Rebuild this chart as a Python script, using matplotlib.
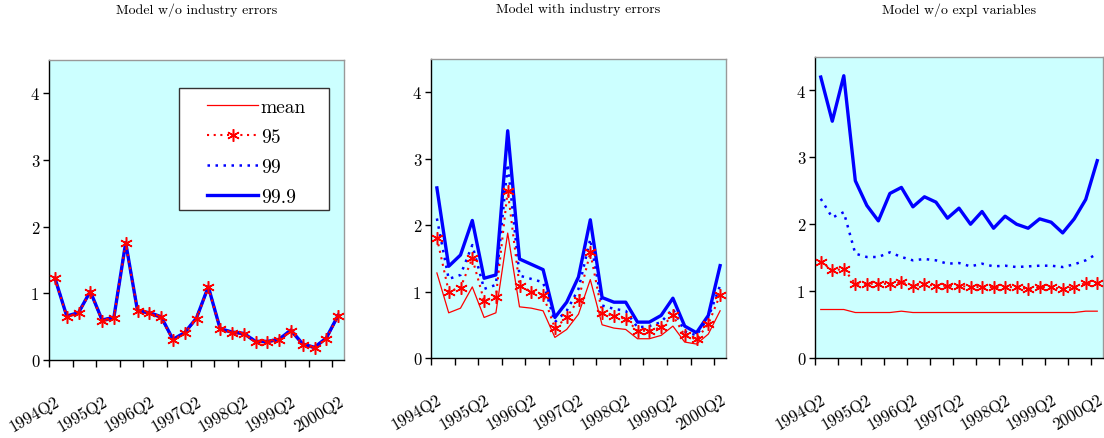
import matplotlib
matplotlib.use("Agg")
import matplotlib.pyplot as plt
from matplotlib.lines import Line2D
from matplotlib.patches import Rectangle

plt.rcParams["font.family"] = ["cmr10", "DejaVu Serif"]
plt.rcParams["axes.formatter.use_mathtext"] = True

# Quarters 1994Q2 .. 2000Q2 (25 observations)
quarters = [f"{y}Q{q}" for y in range(1994, 2001) for q in range(1, 5)][1:26]
tick_labels = ["1994Q2", "1995Q2", "1996Q2", "1997Q2", "1998Q2", "1999Q2", "2000Q2"]
series_names = ["mean", "95", "99", "99.9"]
titles = ["Model w/o industry errors", "Model with industry errors",
          "Model w/o expl variables"]

# Panel 1: model without industry errors (all quantiles nearly coincide)
p1_mean = [1.21, 0.64, 0.69, 1.01, 0.57, 0.62, 1.73, 0.72, 0.69, 0.62, 0.29, 0.39,
           0.61, 1.07, 0.45, 0.40, 0.38, 0.26, 0.26, 0.29, 0.42, 0.22, 0.17, 0.31, 0.64]
p1_95 = [1.23, 0.65, 0.70, 1.02, 0.59, 0.63, 1.75, 0.73, 0.70, 0.64, 0.30, 0.40,
         0.62, 1.09, 0.46, 0.41, 0.39, 0.27, 0.27, 0.30, 0.44, 0.23, 0.18, 0.32, 0.66]
p1_99 = [1.23, 0.66, 0.71, 1.03, 0.60, 0.64, 1.76, 0.74, 0.71, 0.65, 0.31, 0.41,
         0.63, 1.10, 0.47, 0.42, 0.40, 0.28, 0.28, 0.31, 0.45, 0.24, 0.19, 0.33, 0.67]
p1_999 = [1.23, 0.66, 0.71, 1.03, 0.60, 0.64, 1.76, 0.74, 0.71, 0.65, 0.31, 0.41,
          0.63, 1.10, 0.47, 0.42, 0.40, 0.28, 0.28, 0.31, 0.45, 0.24, 0.19, 0.33, 0.67]

# Panel 2: model with industry errors
p2_mean = [1.28, 0.68, 0.75, 1.07, 0.61, 0.68, 1.88, 0.77, 0.75, 0.71, 0.31, 0.43,
           0.66, 1.18, 0.50, 0.45, 0.43, 0.29, 0.29, 0.34, 0.48, 0.24, 0.21, 0.36, 0.71]
p2_95 = [1.81, 1.00, 1.06, 1.50, 0.86, 0.92, 2.52, 1.09, 1.00, 0.95, 0.45, 0.61,
         0.88, 1.59, 0.68, 0.63, 0.59, 0.41, 0.41, 0.46, 0.64, 0.34, 0.28, 0.51, 0.95]
p2_99 = [2.10, 1.19, 1.25, 1.70, 1.04, 1.10, 2.92, 1.24, 1.19, 1.14, 0.54, 0.71,
         1.04, 1.79, 0.79, 0.74, 0.71, 0.46, 0.48, 0.54, 0.74, 0.40, 0.34, 0.61, 1.09]
p2_999 = [2.56, 1.38, 1.55, 2.07, 1.20, 1.25, 3.42, 1.49, 1.41, 1.33, 0.61, 0.84,
          1.22, 2.08, 0.91, 0.84, 0.84, 0.54, 0.54, 0.64, 0.90, 0.48, 0.38, 0.64, 1.39]

# Panel 3: model without explanatory variables
p3_mean = [0.725, 0.725, 0.725, 0.68, 0.68, 0.68, 0.68, 0.70, 0.68, 0.68, 0.68, 0.68,
           0.68, 0.68, 0.68, 0.68, 0.68, 0.68, 0.68, 0.68, 0.68, 0.68, 0.68, 0.70, 0.70]
p3_95 = [1.44, 1.31, 1.33, 1.11, 1.11, 1.11, 1.11, 1.13, 1.08, 1.10, 1.08, 1.08,
         1.08, 1.06, 1.06, 1.06, 1.06, 1.06, 1.03, 1.06, 1.06, 1.03, 1.06, 1.12, 1.12]
p3_99 = [2.38, 2.10, 2.18, 1.56, 1.51, 1.51, 1.58, 1.51, 1.46, 1.48, 1.46, 1.41,
         1.42, 1.37, 1.41, 1.37, 1.38, 1.36, 1.37, 1.38, 1.38, 1.36, 1.40, 1.46, 1.56]
p3_999 = [4.20, 3.54, 4.22, 2.65, 2.28, 2.05, 2.46, 2.55, 2.26, 2.41, 2.33, 2.09,
          2.24, 2.00, 2.19, 1.94, 2.12, 2.00, 1.94, 2.08, 2.03, 1.87, 2.08, 2.37, 2.95]

panels = [(p1_mean, p1_95, p1_99, p1_999),
          (p2_mean, p2_95, p2_99, p2_999),
          (p3_mean, p3_95, p3_99, p3_999)]

# axes boxes in pixels: left, bottom(from top), right, top(from top)
W, H = 1104, 439
boxes = [(49, 361, 344, 61), (431, 359, 726, 60), (815, 359, 1103, 58)]

star = (6, 2, 0)
red, blue = "#FF0000", "#0000FF"
dots = (0, (1, 2.2))

fig = plt.figure(figsize=(W / 100, H / 100), dpi=100)
x = list(range(len(quarters)))

for i, (data, box, title) in enumerate(zip(panels, boxes, titles)):
    l, b, r, t = box
    ax = fig.add_axes([l / W, 1 - b / H, (r - l) / W, (b - t) / H])
    ax.set_facecolor("#CCFFFF")
    mean, q95, q99, q999 = data
    ax.plot(x, mean, color=red, lw=0.9, zorder=2)
    ax.plot(x, q999, color=blue, lw=2.4, zorder=3)
    ax.plot(x, q99, color=blue, lw=1.8, ls=dots, zorder=4)
    ax.plot(x, q95, color=red, lw=1.5, ls=dots, marker=star, ms=9,
            mew=1.1, mec=red, zorder=5)

    ax.set_xlim(-0.45, 24.5)
    ax.set_ylim(0, 4.5)
    ax.set_yticks([0, 1, 2, 3, 4])
    ax.set_yticklabels(["0", "1", "2", "3", "4"], fontsize=12)
    ax.set_xticks(list(range(0, 25, 4)))
    ax.set_xticklabels(tick_labels, fontsize=12, rotation=30, ha="right",
                       va="top", rotation_mode="anchor")
    ax.set_xticks([k - 0.5 for k in range(0, 25, 2)], minor=True)
    ax.tick_params(axis="x", which="major", length=0, pad=24)
    ax.tick_params(axis="x", which="minor", length=5, width=1, direction="out")
    ax.tick_params(axis="y", length=4, width=1, direction="out", pad=3)
    for side in ["left", "bottom"]:
        ax.spines[side].set_color("black")
        ax.spines[side].set_linewidth(1.0)
    for side in ["top", "right"]:
        ax.spines[side].set_color("#999999")
        ax.spines[side].set_linewidth(1.0)

    fig.text(((l + r) / 2) / W, 1 - 10 / H, title, ha="center", va="center",
             fontsize=10)

    if i == 0:
        # legend frame drawn as a patch so the padding matches the original
        x0, y0, w, h = 0.44, 0.50, 0.51, 0.407
        ax.add_patch(Rectangle((x0, y0), w, h, transform=ax.transAxes,
                               facecolor="white", edgecolor="#333333", lw=1.0,
                               zorder=6))
        handles = [
            Line2D([], [], color=red, lw=0.9),
            Line2D([], [], color=red, lw=1.5, ls=dots, marker=star,
                   ms=9, mew=1.1),
            Line2D([], [], color=blue, lw=1.8, ls=dots),
            Line2D([], [], color=blue, lw=2.4),
        ]
        leg = ax.legend(handles, series_names, loc="center left",
                        bbox_to_anchor=(x0 + 0.097, y0 + h / 2 - 0.01),
                        fontsize=14, numpoints=1, frameon=False,
                        handlelength=2.6, handletextpad=0.15, borderpad=0.0,
                        labelspacing=0.63, borderaxespad=0)
        leg.set_zorder(7)

fig.savefig("out.png", dpi=100)
